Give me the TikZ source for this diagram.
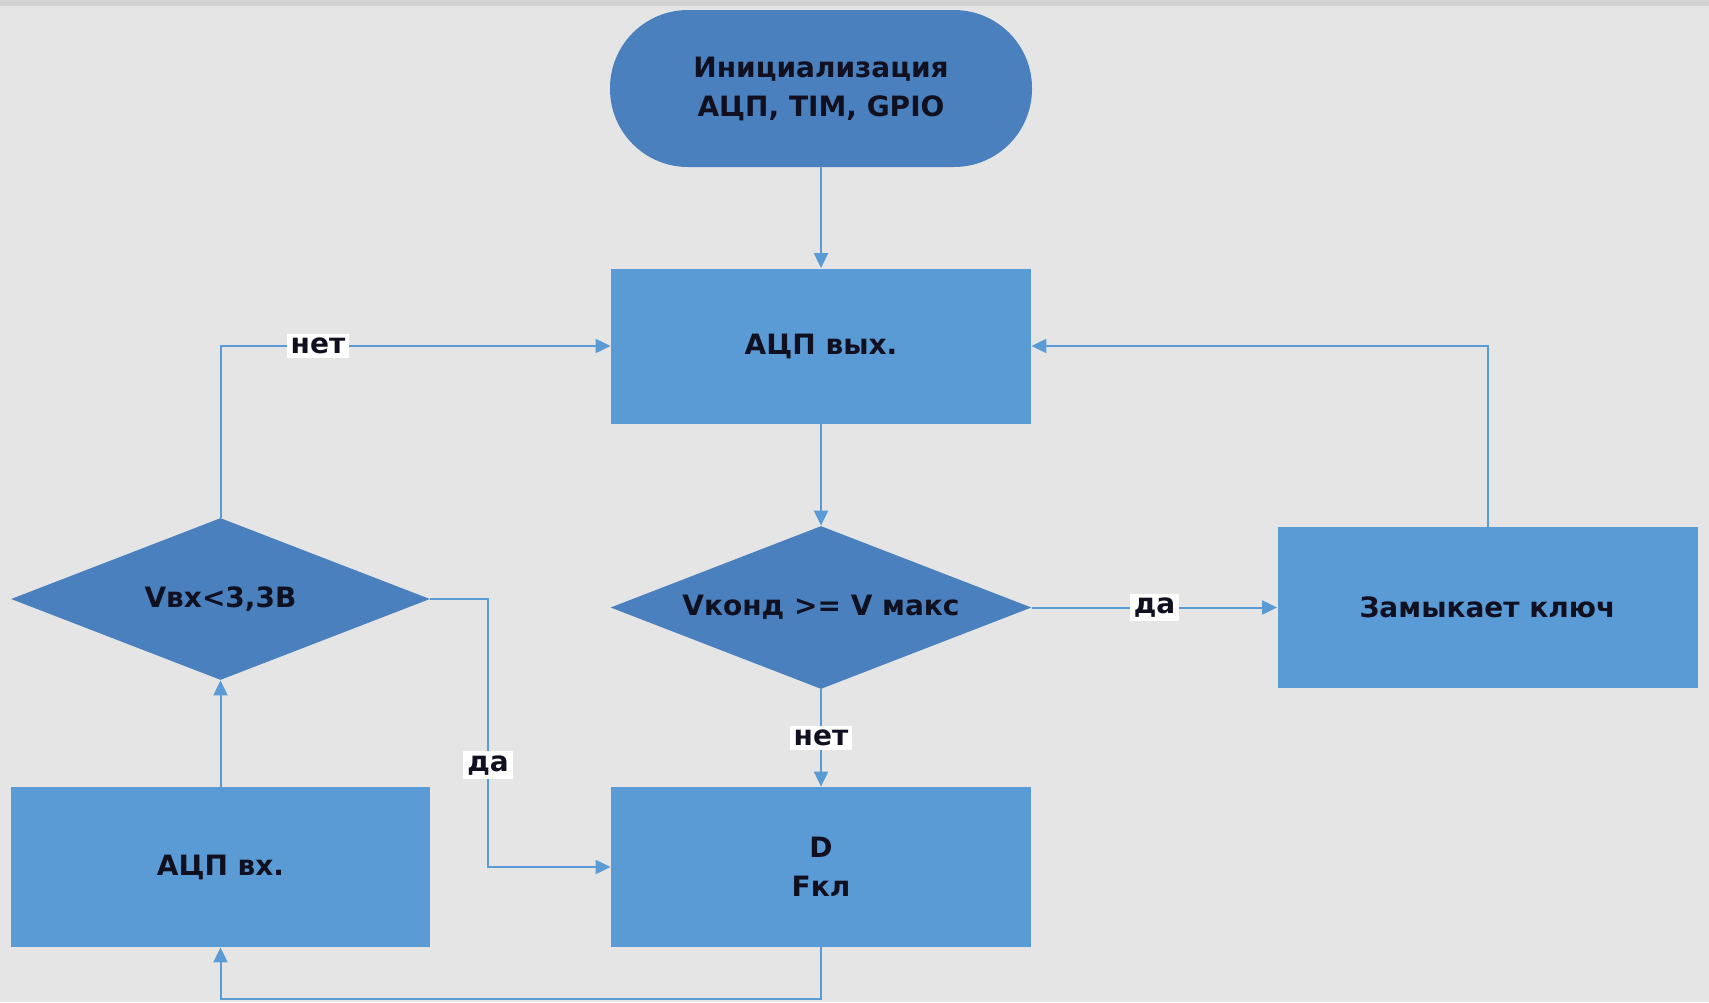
\documentclass[tikz,border=0pt]{standalone}
\usepackage{fontspec}
\setmainfont{DejaVu Sans}
\usetikzlibrary{shapes.geometric,arrows.meta}
\definecolor{bg}{HTML}{E5E5E5}
\definecolor{topband}{HTML}{D2D2D2}
\definecolor{boxblue}{HTML}{5B9BD5}
\definecolor{darkblue}{HTML}{4A80BD}
\definecolor{linecol}{HTML}{5B9BD5}
\definecolor{txt}{HTML}{101020}
\begin{document}
\begin{tikzpicture}[x=0.5pt,y=-0.5pt,
  every node/.style={font=\fontsize{14}{19.5}\selectfont\bfseries, text=txt, align=center},
  procbox/.style={rectangle, fill=boxblue, inner sep=0pt, minimum width=210pt},
  decbox/.style={diamond, aspect=2.58, fill=darkblue, inner sep=0pt},
  termbox/.style={rectangle, rounded corners=39pt, fill=darkblue, inner sep=0pt, minimum width=211pt, minimum height=78.5pt},
  conn/.style={draw=linecol, line width=1pt, -{Triangle[length=7.5pt,width=7pt]}},
  lbl/.style={fill=white, inner sep=2pt}
]
\fill[bg] (0,0) rectangle (1709,1002);
\fill[topband] (0,0) rectangle (1709,6);
\useasboundingbox (0,0) rectangle (1709,1002);

\node[termbox] (start) at (821,88.5) {Инициализация\\АЦП, TIM, GPIO};
\node[procbox, minimum height=77.5pt] (out) at (821,346) {АЦП вых.};
\node[decbox, minimum width=210.5pt, minimum height=81.5pt] (dec1) at (821,607.5) {Vконд >= V макс};
\node[procbox, minimum height=80.5pt] (key) at (1487.5,607.5) {Замыкает ключ};
\node[procbox, minimum height=80pt] (dfk) at (821,867) {D\\Fкл};
\node[procbox, minimum width=209.5pt, minimum height=80pt] (ain) at (220.5,867) {АЦП вх.};
\node[decbox, minimum width=209.5pt, minimum height=81pt] (dec2) at (220.5,599) {Vвх<3,3В};

\coordinate (bl) at (821,999);
\coordinate (rj) at (488,599);

\draw[conn] (start.south) -- (out.north);
\draw[conn] (out.south) -- (dec1.north);
\draw[conn] (dec1.east) -- node[lbl] (yes1) {да} (dec1.east -| key.west);
\draw[conn] (key.north) |- (out.east);
\draw[conn] (dec1.south) -- node[lbl, pos=0.5] (no1) {нет} (dfk.north);
\draw[conn] (dfk.south) -- (bl) -| (ain.south);
\draw[conn] (ain.north) -- (dec2.south);
\draw[conn] (dec2.north) |- node[lbl, pos=0.625] (no2) {нет} (out.west);
\draw[conn] (dec2.east) -- (rj) |- node[lbl, pos=0.31] (yes2) {да} (dfk.west);
\end{tikzpicture}
\end{document}
